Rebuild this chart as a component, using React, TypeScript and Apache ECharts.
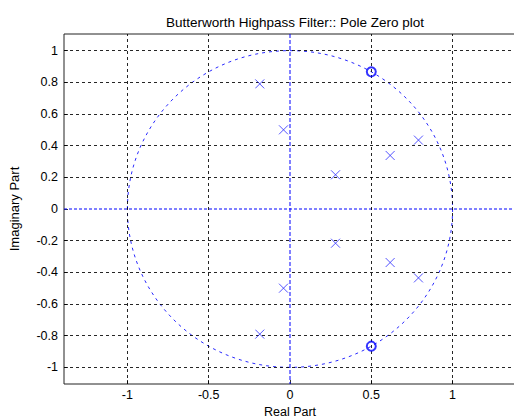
import React, { useEffect, useRef } from "react";
import * as echarts from "echarts";

const title = "Butterworth Highpass Filter:: Pole Zero plot";
const xTicks = [-1, -0.5, 0, 0.5, 1];
const yTicks = [-1, -0.8, -0.6, -0.4, -0.2, 0, 0.2, 0.4, 0.6, 0.8, 1];
const xRange = [-1.39, 1.39];
const yRange = [-1.105, 1.105];
const poles: number[][] = [
  [0.79, 0.435],
  [0.616, 0.338],
  [0.28, 0.216],
  [-0.04, 0.5],
  [-0.186, 0.79],
  [0.79, -0.435],
  [0.616, -0.338],
  [0.28, -0.216],
  [-0.04, -0.5],
  [-0.186, -0.79],
];
const zeros: number[][] = [
  [0.5, 0.866],
  [0.5, -0.866],
];
const unitCircle: number[][] = [[0, 0, 1]];

const FONT = "Liberation Sans, Arial, sans-serif";

export default function App() {
  const ref = useRef<HTMLDivElement>(null);
  useEffect(() => {
    if (!ref.current) return;
    const chart = echarts.init(ref.current, null, { renderer: "svg" });
    const gridBlack = { color: "#000", width: 1, type: [3, 3] as any, opacity: 0.85 };
    const blackData: any[] = [];
    xTicks
      .filter((v) => v !== 0)
      .forEach((v) => blackData.push([{ coord: [v, yRange[0]] }, { coord: [v, yRange[1]] }]));
    yTicks
      .filter((v) => v !== 0)
      .forEach((v) => blackData.push([{ coord: [xRange[0], v] }, { coord: [xRange[1], v] }]));
    chart.setOption({
      animation: false,
      backgroundColor: "#fff",
      title: {
        text: title,
        left: 290,
        textAlign: "center",
        top: 10,
        textStyle: { fontFamily: FONT, fontSize: 13.5, fontWeight: "normal", color: "#000" },
      },
      grid: {
        left: 64,
        top: 34,
        width: 452,
        height: 350,
        outerBoundsMode: "none",
        containLabel: false,
        show: true,
        borderColor: "#222",
        borderWidth: 1,
        backgroundColor: "#fff",
      },
      xAxis: {
        type: "value",
        min: xRange[0],
        max: xRange[1],
        name: "Real Part",
        nameLocation: "middle",
        nameGap: 15,
        nameTextStyle: { fontFamily: FONT, fontSize: 12.5, color: "#000" },
        axisLine: { show: false, onZero: false },
        splitLine: { show: false },
        axisTick: { show: true, inside: true, length: 4, customValues: xTicks, lineStyle: { color: "#333" } },
        axisLabel: {
          customValues: xTicks,
          fontFamily: FONT,
          fontSize: 12.5,
          color: "#000",
          margin: 4,
          formatter: (v: number) => String(v),
        },
      },
      yAxis: {
        type: "value",
        min: yRange[0],
        max: yRange[1],
        name: "Imaginary Part",
        nameLocation: "middle",
        nameGap: 43,
        nameRotate: 90,
        nameTextStyle: { fontFamily: FONT, fontSize: 13, color: "#000" },
        axisLine: { show: false, onZero: false },
        splitLine: { show: false },
        axisTick: { show: true, inside: true, length: 4, customValues: yTicks, lineStyle: { color: "#333" } },
        axisLabel: {
          customValues: yTicks,
          fontFamily: FONT,
          fontSize: 12.5,
          color: "#000",
          margin: 6,
          formatter: (v: number) => String(Math.round(v * 10) / 10),
        },
      },
      series: [
        {
          type: "scatter",
          data: [],
          silent: true,
          markLine: {
            silent: true,
            symbol: "none",
            label: { show: false },
            lineStyle: gridBlack,
            data: blackData,
          },
          z: 2,
        },
        {
          type: "custom",
          silent: true,
          data: unitCircle,
          renderItem: (params: any, api: any) => {
            const c = api.coord([api.value(0), api.value(1)]);
            const s = api.size([api.value(2), api.value(2)]);
            const l = api.coord([xRange[0], api.value(1)]);
            const r = api.coord([xRange[1], api.value(1)]);
            const t = api.coord([api.value(0), yRange[1]]);
            const b = api.coord([api.value(0), yRange[0]]);
            return {
              type: "group",
              children: [
                {
                  type: "line",
                  shape: { x1: l[0], y1: l[1], x2: r[0], y2: r[1] },
                  style: { stroke: "#0000ff", lineWidth: 1, lineDash: [3, 2] },
                },
                {
                  type: "line",
                  shape: { x1: t[0], y1: t[1], x2: b[0], y2: b[1] },
                  style: { stroke: "#0000ff", lineWidth: 1, lineDash: [4, 2] },
                },
                {
                  type: "ellipse",
                  shape: { cx: c[0], cy: c[1], rx: s[0], ry: s[1] },
                  style: { fill: "none", stroke: "#2a2aff", lineWidth: 1, lineDash: [3, 4] },
                },
              ],
            };
          },
          z: 4,
        },
        {
          type: "scatter",
          data: poles,
          symbol: "path://M0,0L10,10M10,0L0,10",
          symbolSize: 9,
          itemStyle: { color: "none", borderColor: "#2a2aff", borderWidth: 1 },
          z: 5,
        },
        {
          type: "scatter",
          data: zeros,
          symbol: "circle",
          symbolSize: 9,
          itemStyle: { color: "none", borderColor: "#0000ff", borderWidth: 2 },
          z: 5,
        },
      ],
    });
    return () => chart.dispose();
  }, []);
  return (
    <div
      ref={ref}
      style={{ position: "absolute", left: 0, top: 0, width: 514, height: 418 }}
    />
  );
}
